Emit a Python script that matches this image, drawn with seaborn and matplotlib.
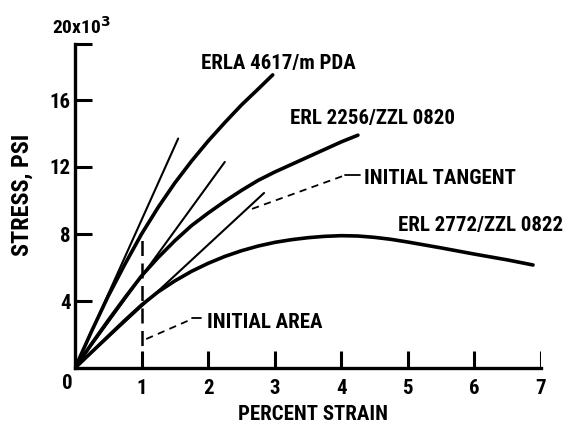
import numpy as np
import pandas as pd
import matplotlib
matplotlib.use("Agg")
import matplotlib.pyplot as plt
import seaborn as sns

# ---- data ----
strain_a = [0, 0.25, 0.5, 0.75, 1.0, 1.25, 1.5, 1.75, 2.0, 2.25, 2.5, 2.75, 2.97]
stress_a = [0, 2.2, 4.3, 6.2, 8.0, 9.6, 11.05, 12.35, 13.55, 14.65, 15.7, 16.65, 17.5]

strain_b = [0, 0.25, 0.5, 0.75, 1.0, 1.25, 1.5, 1.75, 2.0, 2.25, 2.5, 2.75, 3.0, 3.25, 3.5, 3.75, 4.0, 4.25]
stress_b = [0, 1.45, 2.85, 4.2, 5.5, 6.6, 7.6, 8.5, 9.25, 9.95, 10.6, 11.2, 11.7, 12.15, 12.6, 13.05, 13.5, 13.9]

strain_c = [0, 0.25, 0.5, 0.75, 1.0, 1.25, 1.5, 1.75, 2.0, 2.25, 2.5, 2.75, 3.0, 3.25, 3.5, 3.75,
            4.0, 4.25, 4.5, 4.75, 5.0, 5.5, 6.0, 6.5, 6.88]
stress_c = [0, 0.95, 1.9, 2.85, 3.76, 4.55, 5.2, 5.77, 6.25, 6.66, 7.0, 7.28, 7.5, 7.66, 7.78, 7.86,
            7.9, 7.88, 7.8, 7.68, 7.52, 7.17, 6.8, 6.45, 6.15]

tangent_a = ([0, 1.55], [0, 13.7])
tangent_b = ([0, 2.25], [0, 12.3])
tangent_c = ([0, 2.84], [0, 10.45])

area_line = ([1, 1], [0, 7.8])

labels = ["ERLA 4617/m PDA", "ERL 2256/ZZL 0820", "ERL 2772/ZZL 0822"]
x_ticks = [1, 2, 3, 4, 5, 6, 7]
y_ticks = [4, 8, 12, 16]

sns.set_theme(style="white")
plt.rcParams['font.family'] = ['Roboto Condensed', 'DejaVu Sans']
plt.rcParams['font.weight'] = 'bold'
plt.rcParams['axes.labelweight'] = 'bold'
plt.rcParams['text.color'] = 'black'
plt.rcParams['axes.labelcolor'] = 'black'

fig = plt.figure(figsize=(5.71, 4.23), dpi=100)
ax = fig.add_axes([75 / 571, 1 - 368 / 423, (541 - 75) / 571, (368 - 44) / 423])

curves = pd.concat([
    pd.DataFrame({"strain": strain_a, "stress": stress_a, "mat": labels[0]}),
    pd.DataFrame({"strain": strain_b, "stress": stress_b, "mat": labels[1]}),
    pd.DataFrame({"strain": strain_c, "stress": stress_c, "mat": labels[2]}),
])
for name, g in curves.groupby("mat", sort=False):
    sns.lineplot(data=g, x="strain", y="stress", ax=ax, color="black",
                 linewidth=2.6, sort=False, estimator=None, legend=False)

for tx, ty in (tangent_a, tangent_b, tangent_c):
    sns.lineplot(x=tx, y=ty, ax=ax, color="black", linewidth=1.5,
                 sort=False, estimator=None, legend=False)

ax.plot(area_line[0], area_line[1], color="black", linewidth=1.8,
        dashes=(6, 3))

# leaders
ax.plot([1.07, 1.76], [1.73, 2.93], color="black", linewidth=1.3, dashes=(4, 3))
ax.plot([1.76, 1.89], [2.96, 2.96], color="black", linewidth=1.3)
ax.plot([2.66, 4.05], [9.5, 11.5], color="black", linewidth=1.3, dashes=(4, 3))
ax.plot([4.05, 4.28], [11.5, 11.5], color="black", linewidth=1.3)

fs = 15
ax.text(1.9, 18.2, labels[0], fontsize=fs, va="center", ha="left")
ax.text(3.23, 14.9, labels[1], fontsize=fs, va="center", ha="left")
ax.text(4.85, 8.5, labels[2], fontsize=fs, va="center", ha="left")
ax.text(4.34, 11.3, "INITIAL TANGENT", fontsize=fs, va="center", ha="left")
ax.text(1.98, 2.69, "INITIAL AREA", fontsize=fs, va="center", ha="left")

ytop = (368 - 44) / 16.75
ax.set_xlim(0, 7)
ax.set_ylim(0, ytop)
ax.set_xticks(x_ticks)
ax.set_xticklabels([str(t) for t in x_ticks], fontweight="bold")
ax.set_yticks(y_ticks + [ytop])
ax.set_yticklabels([str(t) for t in y_ticks] + [""], fontweight="bold")
ax.tick_params(axis="both", which="major", direction="in", length=0,
               labelsize=fs, pad=3, colors="black")
ax.tick_params(axis="x", pad=8)

# inward tick marks drawn at the tick positions (in data units)
tick_h = 17 / 16.75       # stress units for ~17 px
tick_w = 17 / 66.6        # strain units for ~17 px
for xt in x_ticks:
    ax.plot([xt, xt], [0, tick_h], color="black", linewidth=2.2,
            solid_capstyle="butt", zorder=6)
for yt in y_ticks + [ytop]:
    ax.plot([0, tick_w], [yt, yt], color="black", linewidth=2.2,
            solid_capstyle="butt", zorder=6, clip_on=False)

ax.text(-0.12, -0.9, "0", fontsize=fs, ha="center", va="center")
ax.text(-0.35, ytop + 0.4, "20x10$^3$", fontsize=14, ha="left", va="bottom")

sns.despine(ax=ax)
for s in ("left", "bottom"):
    ax.spines[s].set_linewidth(2.4)
    ax.spines[s].set_color("black")
ax.set_facecolor("white")

ax.set_xlabel("PERCENT STRAIN", fontsize=fs, fontweight="bold")
ax.set_ylabel("STRESS, PSI", fontsize=17.5, fontweight="bold")
ax.xaxis.set_label_coords((313 - 75) / (541 - 75), -(405 - 368) / (368 - 44))
ax.yaxis.set_label_coords(-(75 - 34) / (541 - 75), (368 - 195) / (368 - 44))

fig.savefig("out.png", dpi=100, facecolor="white")
